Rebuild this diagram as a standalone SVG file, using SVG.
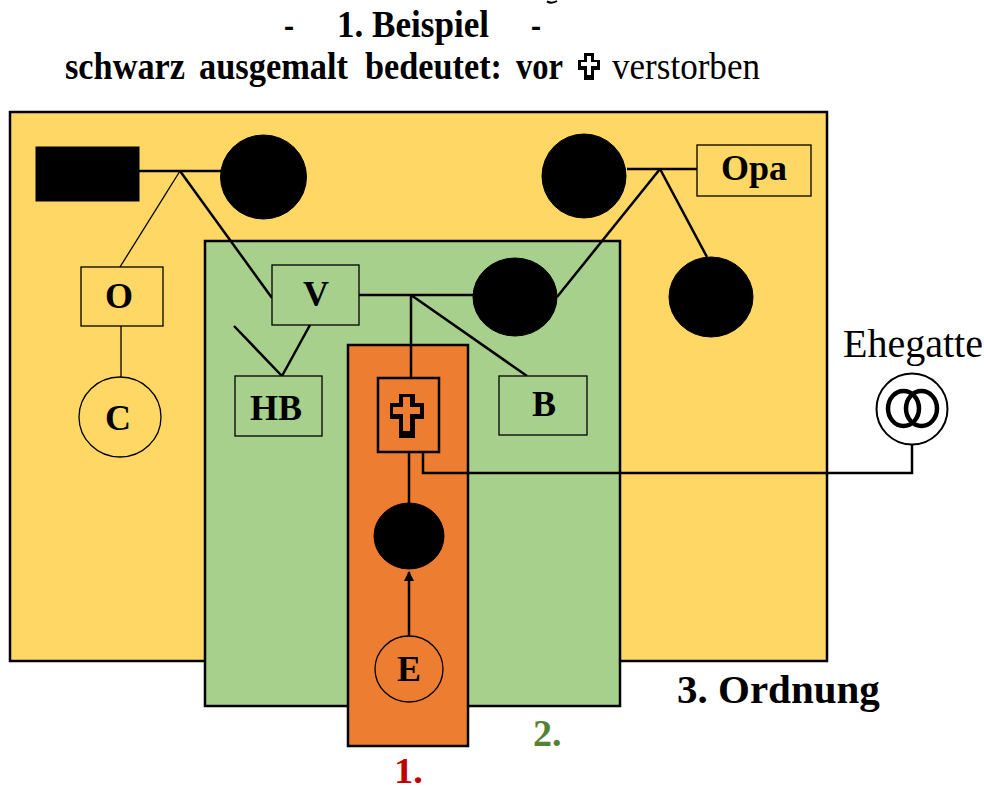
<svg xmlns="http://www.w3.org/2000/svg" width="984" height="791" viewBox="0 0 984 791">
<style>
.s{font-family:"Liberation Serif","Times New Roman",serif;fill:#000}
.b{font-weight:700}
.h{font-size:37px}
.lbl{font-family:"Liberation Serif","Times New Roman",serif;font-weight:700;font-size:36px;text-anchor:middle;fill:#000}
.box{stroke:#000;stroke-width:1.3}
.region{stroke:#000;stroke-width:2.5}
.k{fill:#000;stroke:#000}
.l{fill:none;stroke:#000;stroke-width:2.5}
.t{fill:none;stroke:#000;stroke-width:1.3}
</style>
<defs>
<marker id="ah" markerUnits="userSpaceOnUse" markerWidth="10" markerHeight="12" refX="9" refY="5" orient="auto"><path d="M0 0L10 5L0 10Z" fill="#000"/></marker>
</defs>
<rect width="984" height="791" fill="#fff"/>
<g id="regions">
<rect id="ordnung3" class="region" x="10" y="112" width="817" height="549" fill="#ffd765"/>
<rect id="ordnung2" class="region" x="205" y="241" width="415" height="465" fill="#a8d08d"/>
<rect id="ordnung1" class="region" x="348" y="345" width="120" height="401" fill="#ed7d31"/>
</g>
<g id="connectors">
<path class="l" d="M139 171H221"/>
<path class="t" d="M180 171L120 267"/>
<path class="l" d="M180 171L272 298"/>
<path class="l" d="M234 326L282 376L310 325"/>
<path class="t" d="M121 326V379"/>
<path class="l" d="M359 295H473"/>
<path class="l" d="M411 295V379"/>
<path class="l" d="M411 295L527 376"/>
<path class="l" d="M557 297L660 169"/>
<path class="l" d="M627 169H697"/>
<path class="l" d="M660 169L707 257"/>
<path class="l" d="M409 452V503"/>
<path class="l" d="M409 636V572" marker-end="url(#ah)"/>
<path class="l" d="M423 452V473H912V444"/>
</g>
<g id="node-black-rect"><rect class="k" x="36" y="147" width="103" height="54"/></g>
<g id="node-black-1"><ellipse class="k" cx="263.500" cy="177" rx="43" ry="42"/></g>
<g id="node-black-2"><ellipse class="k" cx="584" cy="176" rx="42" ry="42"/></g>
<g id="node-opa"><rect class="box" x="697" y="145" width="114" height="51" fill="#ffd765"/><text class="lbl" x="754" y="180">Opa</text></g>
<g id="node-black-3"><ellipse class="k" cx="711" cy="297" rx="42" ry="40"/></g>
<g id="node-black-4"><ellipse class="k" cx="515" cy="297" rx="42" ry="39"/></g>
<g id="node-v"><rect class="box" x="272" y="265" width="87" height="60" fill="#a8d08d"/><text class="lbl" x="316" y="306">V</text></g>
<g id="node-o"><rect class="box" x="81" y="267" width="82" height="59" fill="#ffd765"/><text class="lbl" x="119" y="308">O</text></g>
<g id="node-c"><ellipse class="box" cx="120" cy="417" rx="41" ry="40" fill="#ffd765"/><text class="lbl" x="118" y="430">C</text></g>
<g id="node-hb"><rect class="box" x="235" y="376" width="87" height="60" fill="#a8d08d"/><text class="lbl" x="276" y="420">HB</text></g>
<g id="node-b"><rect class="box" x="499" y="376" width="88" height="59" fill="#a8d08d"/><text class="lbl" x="544" y="416">B</text></g>
<g id="node-cross"><rect x="378" y="378" width="61" height="74" fill="#ed7d31" stroke="#000" stroke-width="2.500"/>
<path d="M399 394H415V403H424V419H415V438H399V419H390V403H399Z" fill="#000"/>
<path d="M403 397H410V407H420V414H410V431H403V414H393V407H403Z" fill="#ed7d31"/></g>
<g id="node-black-5"><ellipse class="k" cx="409" cy="536" rx="35" ry="33"/></g>
<g id="node-e"><ellipse class="box" cx="409" cy="669" rx="34" ry="33" fill="#ed7d31"/><text class="lbl" x="409" y="681">E</text></g>
<g id="node-ehegatte"><text class="s" x="843" y="357" font-size="40" textLength="140" lengthAdjust="spacingAndGlyphs">Ehegatte</text>
<circle cx="912" cy="409" r="35.500" fill="#fff" stroke="#000" stroke-width="2"/>
<ellipse cx="903.500" cy="408.500" rx="15.500" ry="17.500" fill="none" stroke="#000" stroke-width="4.500"/>
<ellipse cx="921.500" cy="408.500" rx="15.500" ry="17.500" fill="none" stroke="#000" stroke-width="4.500"/></g>
<g id="titles">
<path d="M547 1.500Q552 4 557 1" fill="none" stroke="#000" stroke-width="2"/>
<text class="s b h" x="284" y="37" textLength="10" lengthAdjust="spacingAndGlyphs">-</text>
<text class="s b h" x="337" y="37" textLength="152" lengthAdjust="spacingAndGlyphs">1. Beispiel</text>
<text class="s b h" x="531" y="37" textLength="10" lengthAdjust="spacingAndGlyphs">-</text>
<text class="s b h" x="65" y="79" textLength="120" lengthAdjust="spacingAndGlyphs">schwarz</text>
<text class="s b h" x="199" y="79" textLength="149" lengthAdjust="spacingAndGlyphs">ausgemalt</text>
<text class="s b h" x="365" y="79" textLength="137" lengthAdjust="spacingAndGlyphs">bedeutet:</text>
<text class="s b h" x="516" y="79" textLength="47" lengthAdjust="spacingAndGlyphs">vor</text>
<path d="M584 53H594V60H600V70H594V80H584V70H578V60H584Z" fill="#000"/>
<path d="M587 56H591V62H597V66H591V75H587V66H581V62H587Z" fill="#fff"/>
<text class="s h" x="612" y="79" textLength="148" lengthAdjust="spacingAndGlyphs">verstorben</text>
<text class="s b" x="677" y="703" font-size="41">3. Ordnung</text>
<text class="s b" x="533" y="746" font-size="38" style="fill:#548235">2.</text>
<text class="s b" x="394" y="783" font-size="36" textLength="29" lengthAdjust="spacingAndGlyphs" style="fill:#c00000">1.</text>
</g>
</svg>
